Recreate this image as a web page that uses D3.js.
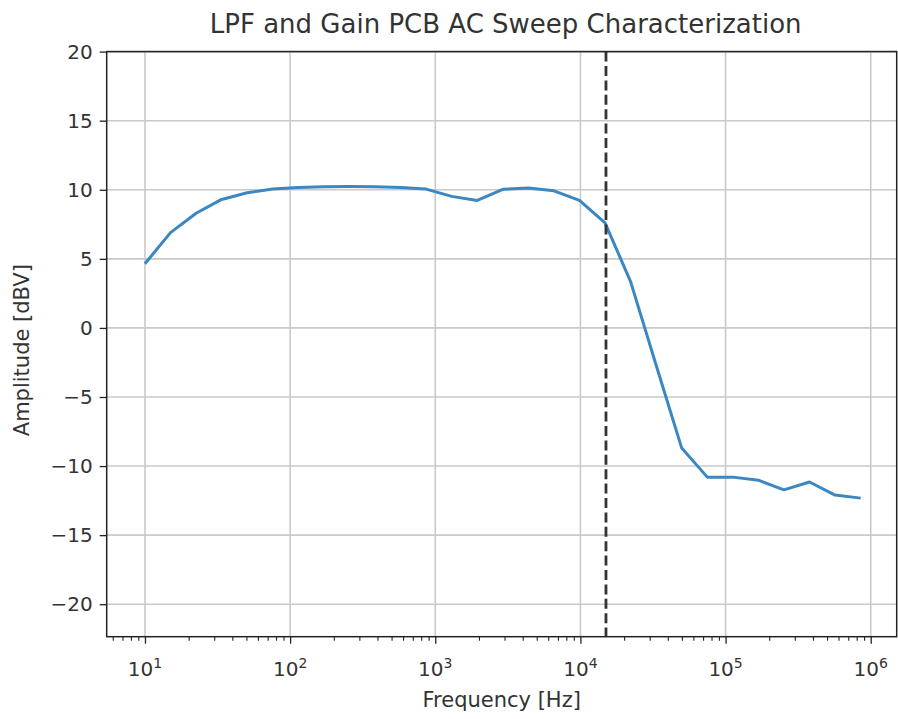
<!DOCTYPE html>
<html>
<head>
<meta charset="utf-8">
<script src="https://cdn.jsdelivr.net/npm/d3@7"></script>
<style>
  html, body { margin: 0; padding: 0; background: #fff; }
  svg { display: block; font-family: "DejaVu Sans", sans-serif; }
</style>
</head>
<body>
<svg id="chart" width="898" height="719"></svg>
<script>
// AC sweep: frequency points (Hz) and measured output amplitude (dBV)
const frequencies = [10, 15, 22.5, 33.75, 50.63, 75.94, 113.9, 170.9, 256.3, 384.4,
  576.7, 865, 1297.5, 1946.2, 2919.3, 4378.9, 6568.4, 9852.6, 14778.9, 22168.4,
  33252.6, 49878.9, 74818.4, 112227.6, 168341.4, 252512.1, 378768.2, 568152.3, 852228.4];
const amplitudes = [4.65, 6.9, 8.3, 9.3, 9.78, 10.05, 10.17, 10.22, 10.24, 10.22,
  10.17, 10.05, 9.52, 9.23, 10.03, 10.13, 9.92, 9.23, 7.6, 3.35,
  -2.7, -8.7, -10.8, -10.8, -11.02, -11.72, -11.15, -12.1, -12.32];

// corner frequency marker
const cutoffHz = 15000;

const xDomain = [5.45, 1.51e6];
const yDomain = [-22.35, 20.0];
const xMajorTicks = [10, 100, 1000, 10000, 100000, 1000000];
const xTickExponents = ["1", "2", "3", "4", "5", "6"];
const yTicks = [-20, -15, -10, -5, 0, 5, 10, 15, 20];

const titleText = "LPF and Gain PCB AC Sweep Characterization";
const xLabelText = "Frequency [Hz]";
const yLabelText = "Amplitude [dBV]";

const plotLeft = 106.7, plotRight = 896.7, plotTop = 51.6, plotBottom = 636.7;

const svg = d3.select("#chart");
const x = d3.scaleLog().domain(xDomain).range([plotLeft, plotRight]);
const y = d3.scaleLinear().domain(yDomain).range([plotBottom, plotTop]);

// minor ticks: 2..9 times each decade, inside the visible range
const xMinorTicks = [];
for (let dec = 1; dec <= 1e6; dec *= 10) {
  for (let m = 2; m <= 9; m++) {
    const v = m * dec;
    if (v >= xDomain[0] && v <= xDomain[1]) xMinorTicks.push(v);
  }
}

const textColor = "#333";
const gridColor = "#c9c9c9";

// grid
const grid = svg.append("g");
grid.selectAll("line.gx").data(xMajorTicks).join("line")
  .attr("class", "gx")
  .attr("x1", d => x(d)).attr("x2", d => x(d))
  .attr("y1", plotTop).attr("y2", plotBottom)
  .attr("stroke", gridColor).attr("stroke-width", 1.6);
grid.selectAll("line.gy").data(yTicks).join("line")
  .attr("class", "gy")
  .attr("x1", plotLeft).attr("x2", plotRight)
  .attr("y1", d => y(d)).attr("y2", d => y(d))
  .attr("stroke", gridColor).attr("stroke-width", 1.6);

// response curve
const line = d3.line()
  .x((d, i) => x(frequencies[i]))
  .y(d => y(d));
svg.append("path")
  .datum(amplitudes)
  .attr("d", line)
  .attr("fill", "none")
  .attr("stroke", "#3a87c2")
  .attr("stroke-width", 3)
  .attr("stroke-linejoin", "round")
  .attr("stroke-linecap", "butt");

// cutoff marker
svg.append("line")
  .attr("x1", x(cutoffHz)).attr("x2", x(cutoffHz))
  .attr("y1", plotTop).attr("y2", plotBottom)
  .attr("stroke", "#333")
  .attr("stroke-width", 2.8)
  .attr("stroke-dasharray", "10,4.4");

// x axis with log ticks
const xAxis = d3.axisBottom(x)
  .tickValues(xMajorTicks)
  .tickSize(7)
  .tickPadding(6)
  .tickFormat(() => "");
const gx = svg.append("g").attr("transform", `translate(0,${plotBottom})`).call(xAxis);
gx.select(".domain").remove();
gx.selectAll(".tick line").attr("stroke", "#222").attr("stroke-width", 1.3);

const xMinorAxis = d3.axisBottom(x).tickValues(xMinorTicks).tickSize(4).tickFormat(() => "");
const gxm = svg.append("g").attr("transform", `translate(0,${plotBottom})`).call(xMinorAxis);
gxm.select(".domain").remove();
gxm.selectAll(".tick line").attr("stroke", "#222").attr("stroke-width", 1.1);

// x tick labels: 10 with superscript exponent
const xl = svg.append("g");
xMajorTicks.forEach((v, i) => {
  const t = xl.append("text")
    .attr("x", x(v))
    .attr("y", 676)
    .attr("text-anchor", "middle")
    .attr("fill", textColor)
    .attr("font-size", 20);
  t.append("tspan").text("10");
  t.append("tspan").attr("dy", -8).attr("font-size", 14).text(xTickExponents[i]);
});

// y axis
const yAxis = d3.axisLeft(y)
  .tickValues(yTicks)
  .tickSize(7)
  .tickPadding(7)
  .tickFormat(d => d < 0 ? "\u2212" + Math.abs(d) : String(d));
const gy = svg.append("g").attr("transform", `translate(${plotLeft},0)`).call(yAxis);
gy.select(".domain").remove();
gy.selectAll(".tick line").attr("stroke", "#222").attr("stroke-width", 1.3);
gy.selectAll(".tick text")
  .attr("fill", textColor)
  .attr("font-size", 20)
  .attr("font-family", "DejaVu Sans, sans-serif");

// frame
svg.append("rect")
  .attr("x", plotLeft).attr("y", plotTop)
  .attr("width", plotRight - plotLeft).attr("height", plotBottom - plotTop)
  .attr("fill", "none")
  .attr("stroke", "#222")
  .attr("stroke-width", 1.5);

// title and axis labels
svg.append("text")
  .attr("x", (plotLeft + plotRight) / 2 + 4)
  .attr("y", 33)
  .attr("text-anchor", "middle")
  .attr("fill", textColor)
  .attr("font-size", 26)
  .text(titleText);

svg.append("text")
  .attr("x", (plotLeft + plotRight) / 2)
  .attr("y", 707)
  .attr("text-anchor", "middle")
  .attr("fill", textColor)
  .attr("font-size", 21)
  .text(xLabelText);

svg.append("text")
  .attr("transform", `translate(29,${(plotTop + plotBottom) / 2 + 6}) rotate(-90)`)
  .attr("text-anchor", "middle")
  .attr("fill", textColor)
  .attr("font-size", 21)
  .text(yLabelText);
</script>
</body>
</html>
